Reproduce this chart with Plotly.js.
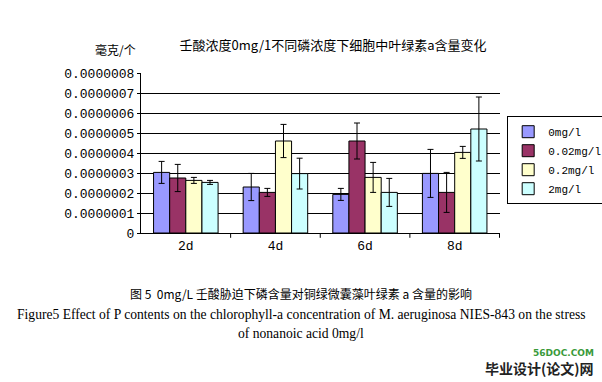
<!DOCTYPE html>
<html><head><meta charset="utf-8">
<script src="https://cdn.plot.ly/plotly-3.0.1.min.js"></script>
<style>body{margin:0;background:#fff}#c{width:602px;height:382px}</style>
</head><body><div id="c"></div>
<script>
const categories = ["2d","4d","6d","8d"];
const seriesNames = ["0mg/l","0.02mg/l","0.2mg/l","2mg/l"];
const v0   = [3.03e-7, 2.30e-7, 1.93e-7, 2.98e-7];
const v002 = [2.75e-7, 2.03e-7, 4.60e-7, 2.03e-7];
const v02  = [2.63e-7, 4.60e-7, 2.78e-7, 4.03e-7];
const v2   = [2.53e-7, 2.97e-7, 2.03e-7, 5.20e-7];
const e0   = [0.55e-7, 0.68e-7, 0.30e-7, 1.20e-7];
const e002 = [0.68e-7, 0.20e-7, 0.90e-7, 1.00e-7];
const e02  = [0.15e-7, 0.83e-7, 0.75e-7, 0.30e-7];
const e2   = [0.10e-7, 0.77e-7, 0.70e-7, 1.60e-7];
const yTicks = [0,1e-7,2e-7,3e-7,4e-7,5e-7,6e-7,7e-7,8e-7];
const yTickText = ["0","0.0000001","0.0000002","0.0000003","0.0000004","0.0000005","0.0000006","0.0000007","0.0000008"];
const colors = ["#9999FF","#993366","#FFFFCC","#CCFFFF"];

const vals = [v0,v002,v02,v2];
const errs = [e0,e002,e02,e2];
const data = vals.map((v,i)=>({
  type:'bar', x:categories, y:v, name:seriesNames[i],
  marker:{color:colors[i], line:{color:'#000', width:1}},
  error_y:{type:'data', array:errs[i], visible:true, color:'#000', thickness:1, width:3}
}));

const cjk = '"SimSun","Noto Sans CJK SC",sans-serif';
const mono = '"Liberation Mono","DejaVu Sans Mono",monospace';
const serif = '"Liberation Serif","Times New Roman",serif';
const layout = {
  width:602, height:382,
  margin:{l:141, r:102, t:73, b:149, autoexpand:false},
  paper_bgcolor:'#fff', plot_bgcolor:'#fff',
  barmode:'group', bargap:0.28, bargroupgap:0,
  showlegend:true,
  legend:{x:1.02, y:0.73, xanchor:'left', yanchor:'top', bgcolor:'#fff',
    bordercolor:'#000', borderwidth:1, font:{family:mono, size:11, color:'#000'},
    traceorder:'normal', itemwidth:30, tracegroupgap:0},
  font:{family:cjk, color:'#000'},
  title:{text:'壬酸浓度0mg/1不同磷浓度下细胞中叶绿素a含量变化', font:{family:cjk, size:13, color:'#000'},
    x:0.535, xref:'paper', xanchor:'center', y:1-45/382, yanchor:'middle'},
  xaxis:{showline:true, linecolor:'#000', linewidth:1, ticks:'', tickfont:{family:mono, size:13, color:'#000'},
    showgrid:false, zeroline:false},
  yaxis:{range:[0,8e-7], tickvals:yTicks, ticktext:yTickText, showgrid:true, gridcolor:'#000', gridwidth:1,
    showline:true, linecolor:'#000', linewidth:1, zeroline:false, ticks:'outside', ticklen:3, tickcolor:'#000',
    tickfont:{family:mono, size:13, color:'#000'}},
  annotations:[
    {text:'毫克/个', xref:'paper', yref:'paper', x:(115-141)/359, y:(233-50)/160, showarrow:false, xanchor:'center', yanchor:'middle', font:{family:cjk, size:12, color:'#000'}},
    {text:'图 5  0mg/L 壬酸胁迫下磷含量对铜绿微囊藻叶绿素 a 含量的影响', xref:'paper', yref:'paper', x:(301-141)/359, y:(233-293)/160, showarrow:false, xanchor:'center', yanchor:'middle', font:{family:cjk, size:12, color:'#000'}},
    {text:'Figure5 Effect of P contents on the chlorophyll-a concentration of M. aeruginosa NIES-843 on the stress', xref:'paper', yref:'paper', x:(301-141)/359, y:(233-314)/160, showarrow:false, xanchor:'center', yanchor:'middle', font:{family:serif, size:13.6, color:'#000'}},
    {text:'of nonanoic acid 0mg/l', xref:'paper', yref:'paper', x:(301-141)/359, y:(233-333)/160, showarrow:false, xanchor:'center', yanchor:'middle', font:{family:serif, size:13.6, color:'#000'}},
    {text:'<b>56DOC.COM</b>', xref:'paper', yref:'paper', x:(596-141)/359, y:(233-353)/160, showarrow:false, xanchor:'right', yanchor:'middle', font:{family:'"DejaVu Sans",sans-serif', size:9, color:'#3a9a3a'}},
    {text:'<b>毕业设计(论文)网</b>', xref:'paper', yref:'paper', x:(596-141)/359, y:(233-368)/160, showarrow:false, xanchor:'right', yanchor:'middle', font:{family:cjk, size:14, color:'#222'}}
  ],
  shapes: [1,2,3,4].map(k=>({type:'line', xref:'x', yref:'paper', x0:k-0.5, x1:k-0.5, y0:0, y1:-0.03, line:{color:'#000', width:1}}))
};
Plotly.newPlot('c', data, layout, {displayModeBar:false, staticPlot:true});
</script></body></html>
